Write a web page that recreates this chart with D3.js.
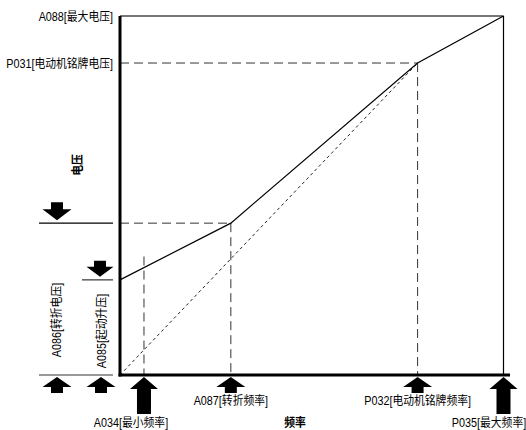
<!DOCTYPE html>
<html>
<head>
<meta charset="utf-8">
<script src="https://cdn.jsdelivr.net/npm/d3@7"></script>
<style>
body { margin:0; background:#fff; }
text { font-family: "Liberation Sans", Arial, "Noto Sans CJK SC", sans-serif; font-size:12px; fill:#000; }
</style>
</head>
<body>
<svg id="chart"></svg>
<script>
// frequency parameters (x) and voltage parameters (y), in % of max
var freqNames = ["A034[最小频率]", "A087[转折频率]", "P032[电动机铭牌频率]", "P035[最大频率]"];
var freqValues = [6.25, 28.9, 77.6, 100];
var freqBig = [true, false, false, true];

var voltNames = ["A085[起动升压]", "A086[转折电压]", "P031[电动机铭牌电压]", "A088[最大电压]"];
var voltValues = [26.5, 42.3, 86.9, 100];

// V/f curve with boost and the plain linear one
var curveFreq = [0, 28.9, 77.6, 100];
var curveVolt = [26.5, 42.3, 86.9, 100];
var linearFreq = [0, 77.6];
var linearVolt = [0, 86.9];

var width = 526;
var height = 430;

var svg = d3.select("#chart")
        .attr("width", width)
        .attr("height", height)

var xScale = d3.scaleLinear()
            .domain([0, 100])
            .range([120, 503.5])

var yScale = d3.scaleLinear()
            .domain([0, 100])
            .range([375, 16])

var x0 = xScale(0), y0 = yScale(0);

// arrow shapes
var upArrow = function(cx, tip, w, headH, shaftW, total)
{
    return "M" + cx + "," + tip +
        "L" + (cx + w/2) + "," + (tip + headH) +
        "L" + (cx + shaftW/2) + "," + (tip + headH) +
        "L" + (cx + shaftW/2) + "," + (tip + total) +
        "L" + (cx - shaftW/2) + "," + (tip + total) +
        "L" + (cx - shaftW/2) + "," + (tip + headH) +
        "L" + (cx - w/2) + "," + (tip + headH) + "Z";
}
var downArrow = function(cx, tip, w, headH, shaftW, total)
{
    return "M" + cx + "," + tip +
        "L" + (cx + w/2) + "," + (tip - headH) +
        "L" + (cx + shaftW/2) + "," + (tip - headH) +
        "L" + (cx + shaftW/2) + "," + (tip - total) +
        "L" + (cx - shaftW/2) + "," + (tip - total) +
        "L" + (cx - shaftW/2) + "," + (tip - headH) +
        "L" + (cx - w/2) + "," + (tip - headH) + "Z";
}

// narrow text: squeeze horizontally
var addLabel = function(x, y, rot, anchor, str)
{
    return svg.append("text")
        .attr("transform", "translate(" + x + "," + y + ") rotate(" + rot + ") scale(0.9,1)")
        .attr("text-anchor", anchor)
        .text(str)
}

// max voltage line (grey) and max frequency line
svg.append("line")
    .attr("x1", x0).attr("x2", xScale(100))
    .attr("y1", yScale(voltValues[3])).attr("y2", yScale(voltValues[3]))
    .attr("stroke", "#777").attr("stroke-width", 2)
svg.append("line")
    .attr("x1", xScale(100)).attr("x2", xScale(100))
    .attr("y1", yScale(100)).attr("y2", y0)
    .attr("stroke", "#000").attr("stroke-width", 1.2)

// dashed guides
svg.append("line")
    .attr("x1", x0).attr("x2", xScale(freqValues[2]))
    .attr("y1", yScale(voltValues[2])).attr("y2", yScale(voltValues[2]))
    .attr("stroke", "#333").attr("stroke-width", 1).attr("stroke-dasharray", "9,5")
svg.append("line")
    .attr("x1", x0).attr("x2", xScale(freqValues[1]))
    .attr("y1", yScale(voltValues[1])).attr("y2", yScale(voltValues[1]))
    .attr("stroke", "#333").attr("stroke-width", 1).attr("stroke-dasharray", "9,5")

svg.selectAll(".vguide")
    .data([0, 1, 2])
    .enter()
    .append("line")
    .attr("class", "vguide")
    .attr("x1", function(i){ return xScale(freqValues[i]) })
    .attr("x2", function(i){ return xScale(freqValues[i]) })
    .attr("y1", function(i)
    {
        if (i == 0) { return yScale(33) }
        return yScale(i == 1 ? voltValues[1] : voltValues[2])
    })
    .attr("y2", y0)
    .attr("stroke", "#333").attr("stroke-width", 1).attr("stroke-dasharray", "9,5")

// linear V/f (fine dashes)
var line = d3.line()
    .x(function(d){ return xScale(d[0]) })
    .y(function(d){ return yScale(d[1]) })

svg.append("path")
    .attr("d", line(d3.zip(linearFreq, linearVolt)))
    .attr("fill", "none").attr("stroke", "#222").attr("stroke-width", 1).attr("stroke-dasharray", "3,3")

svg.append("path")
    .attr("d", line(d3.zip(curveFreq, curveVolt)))
    .attr("fill", "none").attr("stroke", "#000").attr("stroke-width", 1.2)

// left side annotation lines
svg.append("line")
    .attr("x1", 39).attr("x2", 113)
    .attr("y1", yScale(voltValues[1])).attr("y2", yScale(voltValues[1]))
    .attr("stroke", "#000").attr("stroke-width", 1.2)
svg.append("line")
    .attr("x1", 82).attr("x2", 113)
    .attr("y1", yScale(voltValues[0])).attr("y2", yScale(voltValues[0]))
    .attr("stroke", "#333").attr("stroke-width", 1.2)
svg.append("line")
    .attr("x1", 39).attr("x2", 113)
    .attr("y1", y0).attr("y2", y0)
    .attr("stroke", "#333").attr("stroke-width", 1.2)

// axes
svg.append("line")
    .attr("x1", x0).attr("x2", x0)
    .attr("y1", yScale(100)).attr("y2", y0 + 1.5)
    .attr("stroke", "#000").attr("stroke-width", 3)
svg.append("line")
    .attr("x1", x0 - 1.5).attr("x2", 510)
    .attr("y1", y0).attr("y2", y0)
    .attr("stroke", "#000").attr("stroke-width", 3)

// arrows under the x axis
svg.selectAll(".farrow")
    .data(freqValues)
    .enter()
    .append("path")
    .attr("class", "farrow")
    .attr("d", function(d, i)
    {
        if (freqBig[i]) { return upArrow(xScale(d), 377, 28, 12, 14, 37) }
        return upArrow(xScale(d), 377, 29, 10, 12, 16)
    })
    .attr("fill", "#000")

// arrows for the voltage heights
svg.append("path").attr("d", upArrow(57, 377, 29, 10, 12, 16)).attr("fill", "#000")
svg.append("path").attr("d", upArrow(101, 377, 29, 10, 12, 16)).attr("fill", "#000")
svg.append("path").attr("d", downArrow(57, yScale(voltValues[1]) - 3, 29, 11, 12, 18)).attr("fill", "#000")
svg.append("path").attr("d", downArrow(100, yScale(voltValues[0]) - 3, 27, 10, 12, 16)).attr("fill", "#000")

// frequency labels
freqNames.forEach(function(name, i)
{
    var fx = xScale(freqValues[i]) - (freqBig[i] ? 13 : 0);
    if (i == 3) { fx = 489 }
    addLabel(fx, freqBig[i] ? 427 : 405, 0, "middle", name)
})

// voltage labels on the top
addLabel(113, yScale(voltValues[3]) + 5, 0, "end", voltNames[3])
addLabel(113, yScale(voltValues[2]) + 5, 0, "end", voltNames[2])

// rotated voltage labels
addLabel(61, 320, -90, "middle", voltNames[1])
addLabel(106, 331, -90, "middle", voltNames[0])

// axis titles
addLabel(82, 165, -90, "middle", "电压")
    .style("font-weight", "bold")
addLabel(295, 427, 0, "middle", "频率")
    .style("font-weight", "bold")
</script>
</body>
</html>
